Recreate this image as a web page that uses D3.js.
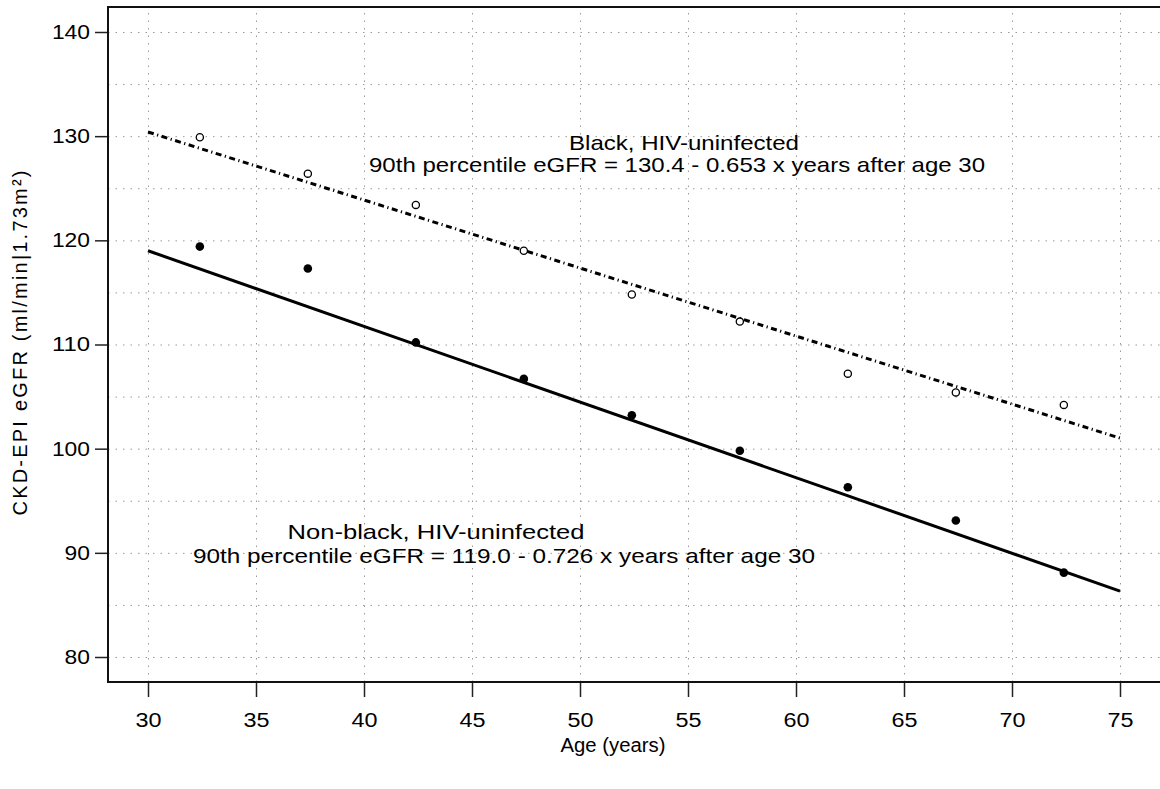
<!doctype html>
<html lang="en">
<head>
<meta charset="utf-8">
<title>eGFR by age</title>
<script src="https://cdn.jsdelivr.net/npm/d3@7"></script>
<style>
  body { margin: 0; background: #fff; }
  svg text { font-family: "Liberation Sans", Arial, sans-serif; fill: #000; }
  .grid line { stroke: #9a9a9a; stroke-width: 1; stroke-dasharray: 1.5,6; }
  .grid path { display: none; }
  .tick-axis path { display: none; }
  .tick-axis line { stroke: #222; stroke-width: 1.5; }
  .tick-axis text { font-size: 20px; }
</style>
</head>
<body>
<svg width="1160" height="789"></svg>
<script>
// data
var ages = [32.4, 37.4, 42.4, 47.4, 52.4, 57.4, 62.4, 67.4, 72.4];
var nonBlack = [119.4, 117.3, 110.2, 106.7, 103.2, 99.8, 96.3, 93.1, 88.1];
var black = [129.9, 126.4, 123.4, 119.0, 114.8, 112.2, 107.2, 105.4, 104.2];

// fitted lines: [intercept at age 30, slope per year]
var fitRange = [30, 75];
var nonBlackFit = [119.0, 0.726];
var blackFit = [130.4, 0.653];

var xTicks = [30, 35, 40, 45, 50, 55, 60, 65, 70, 75];
var yTicks = [80, 90, 100, 110, 120, 130, 140];
var yGrid = [80, 85, 90, 95, 100, 105, 110, 115, 120, 125, 130, 135, 140];

var svg = d3.select("svg");

var x = d3.scaleLinear().domain([30, 75]).range([148, 1120]);
var y = d3.scaleLinear().domain([80, 140]).range([657, 32]);

var frame = {left: 108, right: 1163, top: 7, bottom: 682};

// grid
svg.append("g")
    .attr("class", "grid")
    .attr("transform", "translate(0," + frame.bottom + ")")
    .call(d3.axisBottom(x).tickValues(xTicks).tickSize(-(frame.bottom - frame.top)).tickFormat(""));

svg.append("g")
    .attr("class", "grid")
    .attr("transform", "translate(" + frame.left + ",0)")
    .call(d3.axisLeft(y).tickValues(yGrid).tickSize(-(frame.right - frame.left)).tickFormat(""));

// axis ticks + labels (the original font is a bit wide, so stretch the digits)
svg.append("g")
    .attr("class", "tick-axis")
    .attr("transform", "translate(0," + frame.bottom + ")")
    .call(d3.axisBottom(x).tickValues(xTicks).tickSize(15).tickPadding(16))
    .selectAll("text")
    .attr("textLength", function(d) { return String(d).length * 13; })
    .attr("lengthAdjust", "spacingAndGlyphs");

svg.append("g")
    .attr("class", "tick-axis")
    .attr("transform", "translate(" + frame.left + ",0)")
    .call(d3.axisLeft(y).tickValues(yTicks).tickSize(13).tickPadding(5))
    .selectAll("text")
    .attr("textLength", function(d) { return String(d).length * 12.7; })
    .attr("lengthAdjust", "spacingAndGlyphs");

// frame
svg.append("path")
    .attr("d", "M" + frame.right + "," + frame.top + "H" + frame.left + "V" + frame.bottom + "H" + frame.right)
    .attr("fill", "none")
    .attr("stroke", "#111")
    .attr("stroke-width", 2);

// fitted lines
var line = d3.line()
    .x(function(d) { return x(d[0]); })
    .y(function(d) { return y(d[1]); });

function fitPts(fit) {
    return fitRange.map(function(a) { return [a, fit[0] - fit[1] * (a - 30)]; });
}

svg.append("path")
    .attr("d", line(fitPts(nonBlackFit)))
    .attr("fill", "none")
    .attr("stroke", "#000")
    .attr("stroke-width", 3);

svg.append("path")
    .attr("d", line(fitPts(blackFit)))
    .attr("fill", "none")
    .attr("stroke", "#000")
    .attr("stroke-width", 3)
    .attr("stroke-dasharray", "6,3.5,1.2,3.5");

// points
svg.append("g").selectAll("circle")
    .data(ages)
    .enter().append("circle")
    .attr("cx", function(d) { return x(d); })
    .attr("cy", function(d, i) { return y(nonBlack[i]); })
    .attr("r", 4.3)
    .attr("fill", "#000");

svg.append("g").selectAll("circle")
    .data(ages)
    .enter().append("circle")
    .attr("cx", function(d) { return x(d); })
    .attr("cy", function(d, i) { return y(black[i]); })
    .attr("r", 3.6)
    .attr("fill", "#fff")
    .attr("stroke", "#000")
    .attr("stroke-width", 1.3);

// annotations
function label(txt, cx, by, len) {
    svg.append("text")
        .attr("x", cx - len / 2)
        .attr("y", by)
        .attr("textLength", len)
        .attr("lengthAdjust", "spacingAndGlyphs")
        .style("font-size", "21px")
        .text(txt);
}
label("Black, HIV-uninfected", 684, 150, 230);
label("90th percentile eGFR = 130.4 - 0.653 x years after age 30", 677, 172, 616);
label("Non-black, HIV-uninfected", 436, 539, 297);
label("90th percentile eGFR = 119.0 - 0.726 x years after age 30", 504, 563, 622);

// axis titles
svg.append("text")
    .attr("x", 613)
    .attr("y", 752)
    .attr("text-anchor", "middle")
    .attr("textLength", 105)
    .attr("lengthAdjust", "spacingAndGlyphs")
    .style("font-size", "20px")
    .text("Age (years)");

svg.append("text")
    .attr("transform", "translate(27,343) rotate(-90)")
    .attr("text-anchor", "middle")
    .attr("textLength", 345)
    .attr("lengthAdjust", "spacing")
    .style("font-size", "20px")
    .text("CKD-EPI eGFR (ml/min|1.73m²)");
</script>
</body>
</html>
